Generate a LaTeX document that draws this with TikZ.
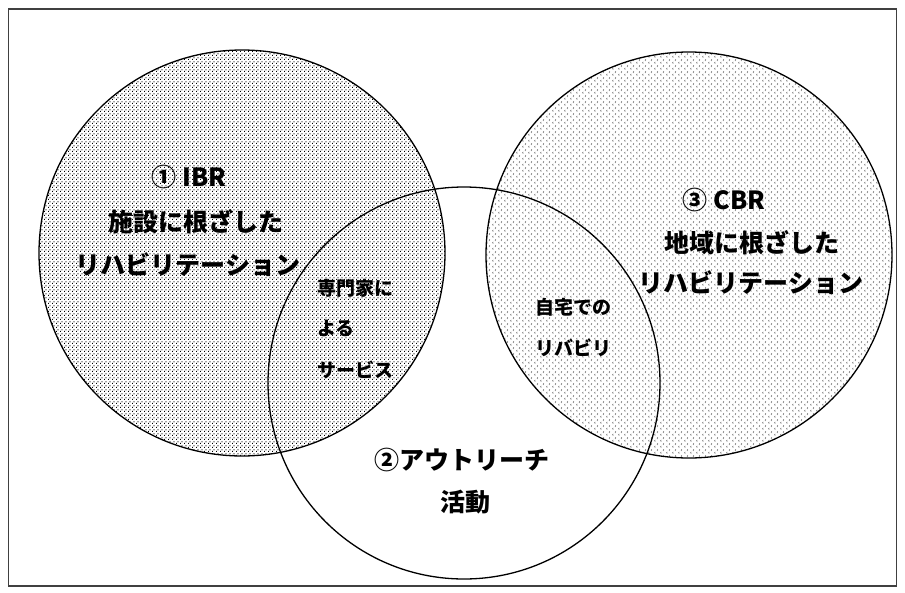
\documentclass[tikz,border=0pt]{standalone}
\usepackage{fontspec}
\newfontfamily\jp{Noto Sans CJK JP}
\usetikzlibrary{patterns}
\pgfdeclarepatternformonly{densedots}{\pgfqpoint{0pt}{0pt}}{\pgfqpoint{4pt}{4pt}}{\pgfqpoint{4pt}{4pt}}{%
  \pgfpathrectangle{\pgfqpoint{0pt}{0pt}}{\pgfqpoint{1pt}{1.5pt}}%
  \pgfpathrectangle{\pgfqpoint{2pt}{2pt}}{\pgfqpoint{1pt}{1.5pt}}%
  \pgfusepath{fill}}
\pgfdeclarepatternformonly{lightmarks}{\pgfqpoint{0pt}{0pt}}{\pgfqpoint{6pt}{6pt}}{\pgfqpoint{6pt}{6pt}}{%
  \pgfsetlinewidth{0.6pt}%
  \pgfpathmoveto{\pgfqpoint{1.5pt}{0.5pt}}\pgfpathlineto{\pgfqpoint{0.5pt}{1.5pt}}\pgfpathlineto{\pgfqpoint{1.5pt}{2.5pt}}%
  \pgfpathmoveto{\pgfqpoint{4.5pt}{3.5pt}}\pgfpathlineto{\pgfqpoint{3.5pt}{4.5pt}}\pgfpathlineto{\pgfqpoint{4.5pt}{5.5pt}}%
  \pgfusepath{stroke}}
\tikzset{
  venn/.style={circle, inner sep=0pt, line width=1.3pt, draw=black},
  bigtext/.style={font=\jp\bfseries\fontsize{25}{30}\selectfont, inner sep=0pt},
  smalltext/.style={font=\jp\bfseries\fontsize{19}{24}\selectfont, inner sep=0pt, anchor=west},
  frame/.style={draw=black!75, line width=1.5pt}
}
\begin{document}
\begin{tikzpicture}[x=1pt,y=-1pt]
\useasboundingbox (0,0) rectangle (905,592);
\node[frame, rectangle, minimum width=888pt, minimum height=577pt, inner sep=0pt] (frm) at (452.5,297.5) {};
% circles
\node[venn, minimum size=406pt, pattern=densedots, pattern color=black] (ibr) at (242,253) {};
\node[venn, minimum size=406pt, pattern=lightmarks, pattern color=black!55] (cbr) at (689,255) {};
\node[venn, minimum size=392pt] (out) at (464,383) {};
% IBR text
\node[bigtext] (ibr1) at (189,177) {① IBR};
\node[bigtext] (ibr2) at (196,222) {施設に根ざした};
\node[bigtext] (ibr3) at (188,265) {リハビリテーション};
% CBR text
\node[bigtext] (cbr1) at (724,200) {③ CBR};
\node[bigtext] (cbr2) at (752,243) {地域に根ざした};
\node[bigtext] (cbr3) at (751,283) {リハビリテーション};
% outreach text
\node[bigtext] (out1) at (462,460) {②アウトリーチ};
\node[bigtext] (out2) at (465,502) {活動};
% overlaps
\node[smalltext] (ov1a) at (317,288) {専門家に};
\node[smalltext] (ov1b) at (317,328) {よる};
\node[smalltext] (ov1c) at (317,370) {サービス};
\node[smalltext] (ov2a) at (535,307) {自宅での};
\node[smalltext] (ov2b) at (535,348) {リバビリ};
\end{tikzpicture}
\end{document}
